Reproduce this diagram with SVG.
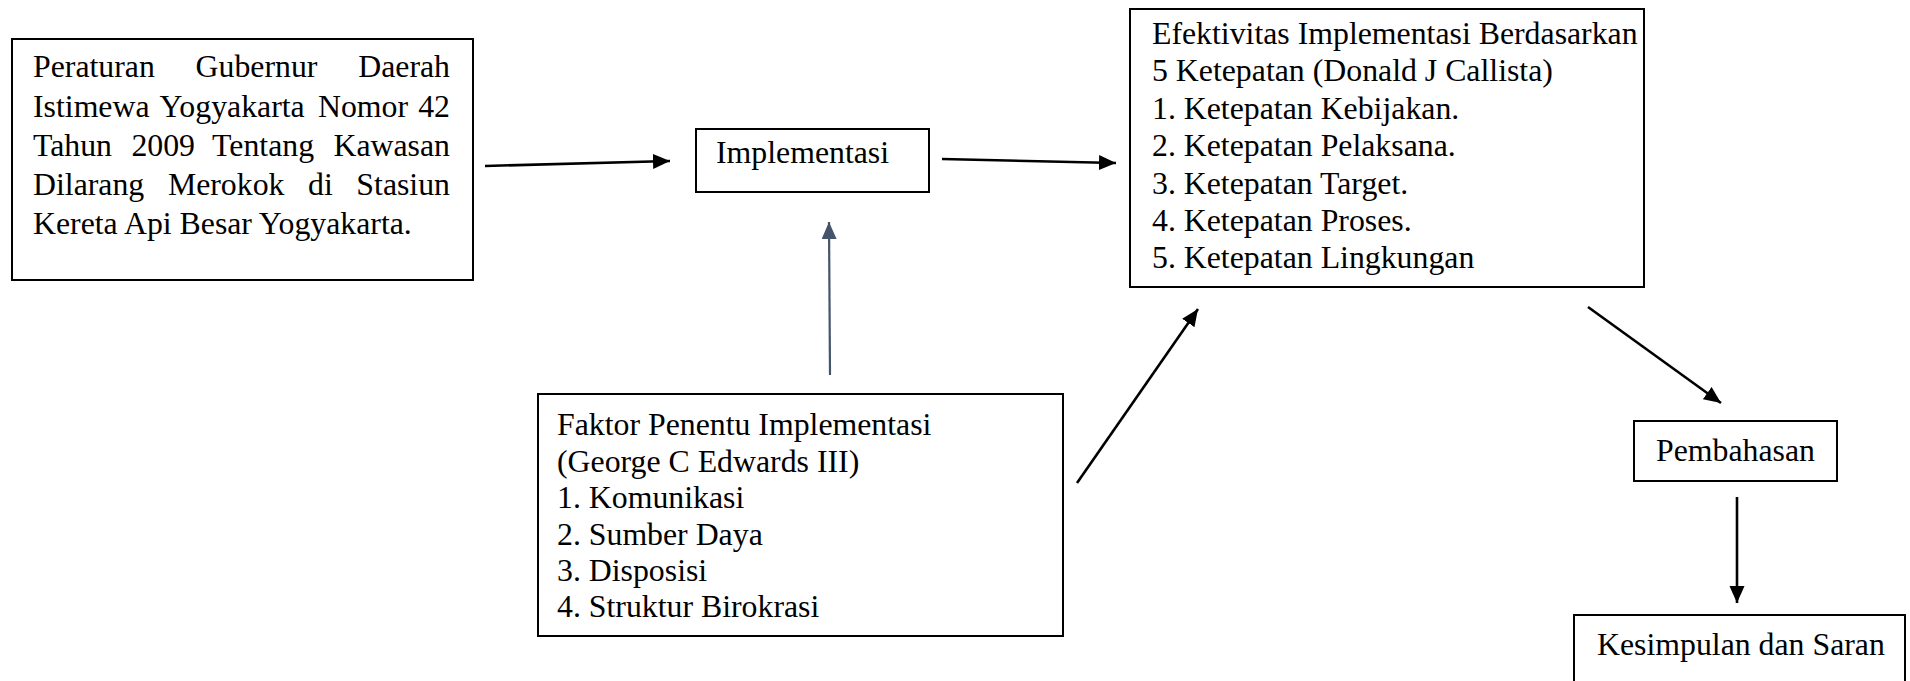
<svg xmlns="http://www.w3.org/2000/svg" width="1910" height="681" viewBox="0 0 1910 681">
<style>
.box{fill:#fff;stroke:#000;stroke-width:2}
.t{font-family:"Liberation Serif","Times New Roman",serif;font-size:31.8px;fill:#000}
.c{fill:none;stroke:#000;stroke-width:2.6}
.cb{fill:none;stroke:#44546A;stroke-width:2.2}
</style>
<defs>
<marker id="ah" markerUnits="userSpaceOnUse" markerWidth="18" markerHeight="16" refX="17" refY="7.5" orient="auto"><path d="M0,0 L17,7.5 L0,15 z" fill="#000"/></marker>
<marker id="ahb" markerUnits="userSpaceOnUse" markerWidth="18" markerHeight="16" refX="17" refY="7.5" orient="auto"><path d="M0,0 L17,7.5 L0,15 z" fill="#44546A"/></marker>
</defs>
<rect width="1910" height="681" fill="#fff"/>
<g id="peraturan">
<rect class="box" x="12" y="39" width="461" height="241"/>
<text class="t"><tspan x="33" y="77">Peraturan</tspan><tspan x="195.6" y="77">Gubernur</tspan><tspan x="450" y="77" text-anchor="end">Daerah</tspan></text>
<text class="t"><tspan x="33" y="117">Istimewa</tspan><tspan x="159.6" y="117">Yogyakarta</tspan><tspan x="318" y="117">Nomor</tspan><tspan x="450" y="117" text-anchor="end">42</tspan></text>
<text class="t"><tspan x="33" y="156">Tahun</tspan><tspan x="131.4" y="156">2009</tspan><tspan x="212.1" y="156">Tentang</tspan><tspan x="450" y="156" text-anchor="end">Kawasan</tspan></text>
<text class="t"><tspan x="33" y="195">Dilarang</tspan><tspan x="167.9" y="195">Merokok</tspan><tspan x="308.1" y="195">di</tspan><tspan x="450" y="195" text-anchor="end">Stasiun</tspan></text>
<text class="t" x="33" y="234">Kereta Api Besar Yogyakarta.</text>
</g>
<g id="implementasi">
<rect class="box" x="696" y="129" width="233" height="63"/>
<text class="t" x="716" y="163">Implementasi</text>
</g>
<g id="efektivitas">
<rect class="box" x="1130" y="9" width="514" height="278"/>
<text class="t" x="1152" y="44">Efektivitas Implementasi Berdasarkan</text>
<text class="t" x="1152" y="81.4">5 Ketepatan (Donald J Callista)</text>
<text class="t" x="1152" y="118.8">1. Ketepatan Kebijakan.</text>
<text class="t" x="1152" y="156.2">2. Ketepatan Pelaksana.</text>
<text class="t" x="1152" y="193.6">3. Ketepatan Target.</text>
<text class="t" x="1152" y="231">4. Ketepatan Proses.</text>
<text class="t" x="1152" y="268.4">5. Ketepatan Lingkungan</text>
</g>
<g id="faktor">
<rect class="box" x="538" y="394" width="525" height="242"/>
<text class="t" x="557" y="435">Faktor Penentu Implementasi</text>
<text class="t" x="557" y="472">(George C Edwards III)</text>
<text class="t" x="557" y="508">1. Komunikasi</text>
<text class="t" x="557" y="545">2. Sumber Daya</text>
<text class="t" x="557" y="581">3. Disposisi</text>
<text class="t" x="557" y="617">4. Struktur Birokrasi</text>
</g>
<g id="pembahasan">
<rect class="box" x="1634" y="421" width="203" height="60"/>
<text class="t" x="1656" y="461">Pembahasan</text>
</g>
<g id="kesimpulan">
<rect class="box" x="1574" y="615" width="331" height="80"/>
<text class="t" x="1597" y="655">Kesimpulan dan Saran</text>
</g>
<g id="connectors">
<line class="c" x1="485" y1="166" x2="670" y2="161" marker-end="url(#ah)"/>
<line class="c" x1="942" y1="159" x2="1116" y2="163" marker-end="url(#ah)"/>
<line class="cb" x1="830" y1="375" x2="829" y2="222" marker-end="url(#ahb)"/>
<line class="c" x1="1077" y1="483" x2="1198" y2="309" marker-end="url(#ah)"/>
<line class="c" x1="1588" y1="307" x2="1721" y2="403" marker-end="url(#ah)"/>
<line class="c" x1="1737" y1="497" x2="1737" y2="603" marker-end="url(#ah)"/>
</g>
</svg>
